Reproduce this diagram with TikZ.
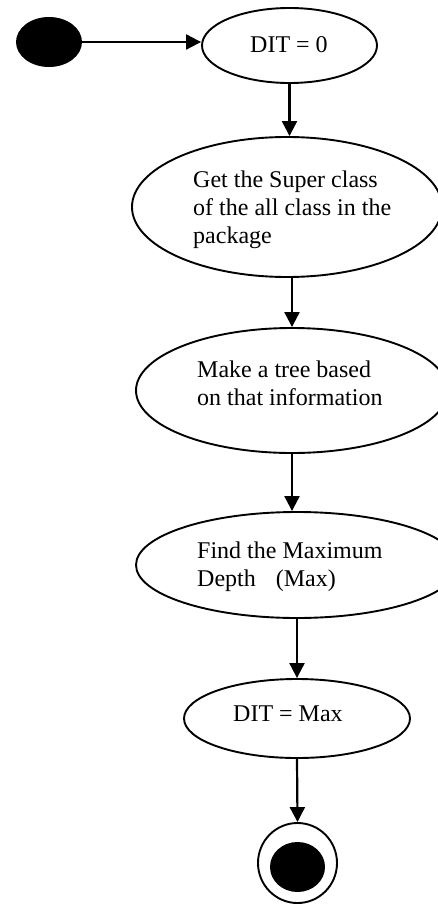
\documentclass[tikz,border=0pt]{standalone}
\usepackage{fontspec}
\setmainfont{Liberation Serif}
\usetikzlibrary{shapes.geometric,arrows.meta}
\begin{document}
\begin{tikzpicture}[x=1pt,y=-1pt,
  state/.style={ellipse,draw=black,line width=1.9pt,inner sep=0pt,fill=white},
  lbl/.style={anchor=base west,inner sep=0pt,align=left,font=\fontsize{24}{27.5}\selectfont},
  arr/.style={line width=2.2pt,-{Triangle[length=15pt,width=15pt]}},
  dot/.style={ellipse,fill=black,inner sep=0pt}]
\useasboundingbox (0,0) rectangle (438,904);
\node[dot,minimum width=66pt,minimum height=50pt] (start) at (49,42) {};
\node[state,minimum width=175pt,minimum height=75pt] (e1) at (289.5,45.5) {};
\node[state,minimum width=310pt,minimum height=140pt] (e2) at (287,207) {};
\node[state,minimum width=312pt,minimum height=125pt] (e3) at (292,390.5) {};
\node[state,minimum width=322pt,minimum height=106pt] (e4) at (297,565) {};
\node[state,minimum width=226pt,minimum height=79pt] (e5) at (297,718.5) {};
\node[ellipse,draw=black,line width=1.9pt,inner sep=0pt,minimum width=79pt,minimum height=80pt] (endo) at (297.5,863) {};
\node[dot,minimum width=55pt,minimum height=50pt] (endi) at (297.5,867) {};
\node[lbl] (t1) at (250,53) {DIT = 0};
\node[lbl] (t2) at (193,243) {Get the Super class\\of the all class in the\\package};
\node[lbl] (t3) at (197,405) {Make a tree based\\on that information};
\node[lbl] (t4) at (197,586) {Find the Maximum\\Depth\hspace{14pt} (Max)};
\node[lbl] (t5) at (233,721) {DIT = Max};
\draw[arr] (start.east) -- (start.east -| e1.west);
\draw[arr] (e1.south) -- (e1.south |- e2.north);
\draw[arr] (e3.north |- e2.south) -- (e3.north);
\draw[arr] (e3.south) -- (e3.south |- e4.north);
\draw[arr] (e4.south) -- (e5.north);
\draw[arr] (e5.south) -- (endo.north);
\end{tikzpicture}
\end{document}
